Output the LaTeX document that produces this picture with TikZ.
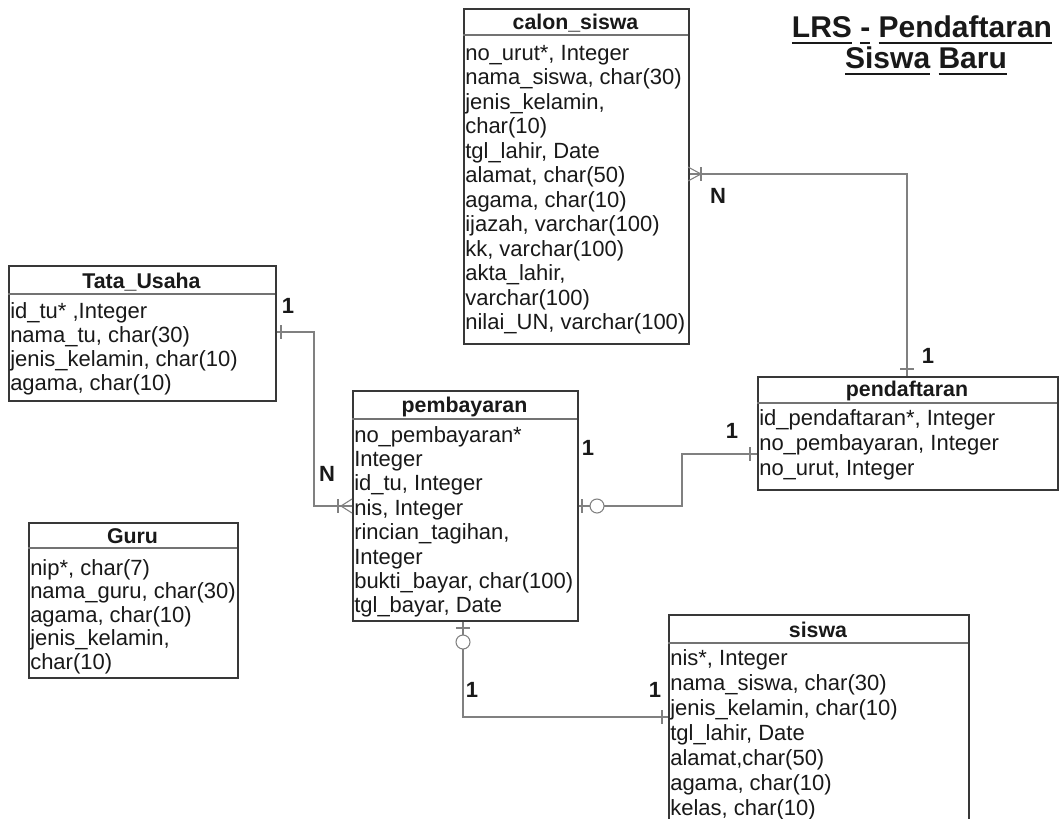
\documentclass[tikz,border=0pt]{standalone}
\usepackage{fontspec}
\setmainfont{Liberation Sans}
\newcommand\myul[1]{\setbox0\hbox{#1}\rlap{\rule[-5.25pt]{\wd0}{1.5pt}}\box0\relax}
\newcommand\erdrows[5]{\foreach \t [count=\i] in {#5} {\node[row] (#1-\i) at (#2,{#3+(\i-1)*#4}) {\t};}}
\begin{document}
\begin{tikzpicture}[x=0.75pt,y=-0.75pt,
 tbl/.style={draw=black!78, line width=1.2pt, fill=white, inner sep=0pt, anchor=north west},
 sep/.style={draw=black!55, line width=1pt},
 hdr/.style={font=\fontsize{16}{19}\selectfont\bfseries, text=black!90, anchor=base, inner sep=0pt},
 row/.style={font=\fontsize{16.5}{19}\selectfont, text=black!90, anchor=base west, inner sep=0pt},
 conn/.style={draw=black!50, line width=0.8pt},
 lbl/.style={font=\fontsize{16.5}{19}\selectfont\bfseries, text=black!90, anchor=base, inner sep=0pt},
 ttl/.style={font=\fontsize{22.5}{27}\selectfont\bfseries, anchor=base, inner sep=0pt, text=black!90}]

\useasboundingbox (0,0) rectangle (1064,818);
\fill[white] (0,0) rectangle (1064,818);
\clip (0,0) rectangle (1064,818);

% title
\node[ttl] (t1) at (922,37) {\myul{LRS} \myul{-} \myul{Pendaftaran}};
\node[ttl] (t2) at (926,68) {\myul{Siswa} \myul{Baru}};

% calon_siswa
\node[tbl, minimum width=168.75pt, minimum height=251.25pt] (cs) at (463,8) {};
\draw[sep] (463,35) -- (688,35);
\node[hdr] (cs-h) at (575.5,29) {calon\_siswa};
\erdrows{cs}{465}{60}{24.5}{{no\_urut*, Integer},{nama\_siswa, char(30)},{jenis\_kelamin,},{char(10)},{tgl\_lahir, Date},{alamat, char(50)},{agama, char(10)},{ijazah, varchar(100)},{kk, varchar(100)},{akta\_lahir,},{varchar(100)},{nilai\_UN, varchar(100)}}

% Tata_Usaha
\node[tbl, minimum width=200.25pt, minimum height=101.25pt] (tu) at (8,265) {};
\draw[sep] (8,294) -- (275,294);
\node[hdr] (tu-h) at (141.5,288) {Tata\_Usaha};
\erdrows{tu}{10}{318}{24.3}{{id\_tu* ,Integer},{nama\_tu, char(30)},{jenis\_kelamin, char(10)},{agama, char(10)}}

% Guru
\node[tbl, minimum width=156.75pt, minimum height=116.25pt] (gu) at (28,522) {};
\draw[sep] (28,548) -- (237,548);
\node[hdr] (gu-h) at (132.5,543) {Guru};
\erdrows{gu}{30}{575}{23.5}{{nip*, char(7)},{nama\_guru, char(30)},{agama, char(10)},{jenis\_kelamin,},{char(10)}}

% pembayaran
\node[tbl, minimum width=168.75pt, minimum height=172.5pt] (pb) at (352,390) {};
\draw[sep] (352,419) -- (577,419);
\node[hdr] (pb-h) at (464.5,412) {pembayaran};
\erdrows{pb}{354}{442}{24.4}{{no\_pembayaran*},{Integer},{id\_tu, Integer},{nis, Integer},{rincian\_tagihan,},{Integer},{bukti\_bayar, char(100)},{tgl\_bayar, Date}}

% pendaftaran
\node[tbl, minimum width=225pt, minimum height=84.75pt] (pd) at (757,376) {};
\draw[sep] (757,403) -- (1057,403);
\node[hdr] (pd-h) at (907,396) {pendaftaran};
\erdrows{pd}{759}{425}{25}{{id\_pendaftaran*, Integer},{no\_pembayaran, Integer},{no\_urut, Integer}}

% siswa
\node[tbl, minimum width=225pt, minimum height=169.5pt] (sw) at (668,614) {};
\draw[sep] (668,643) -- (968,643);
\node[hdr] (sw-h) at (818,637) {siswa};
\erdrows{sw}{670}{665}{25}{{nis*, Integer},{nama\_siswa, char(30)},{jenis\_kelamin, char(10)},{tgl\_lahir, Date},{alamat,char(50)},{agama, char(10)},{kelas, char(10)}}

% connector Tata_Usaha -- pembayaran
\coordinate (k1a) at (314,332);
\coordinate (k1b) at (314,506);
\draw[conn] (tu.east |- k1a) -- (k1a) -- (k1b) -- (pb.west |- k1b);
\draw[conn] (281,325) -- (281,339);
\draw[conn] (338,499) -- (338,513);
\draw[conn] (352,499) -- (341,506) -- (352,513);
\node[lbl] (l1) at (288,313) {1};
\node[lbl] (l2) at (327,481) {N};

% connector pembayaran -- pendaftaran
\coordinate (k2a) at (682,506);
\coordinate (k2b) at (682,454);
\draw[conn] (pb.east |- k2a) -- (k2a) -- (k2b) -- (pd.west |- k2b);
\draw[conn] (582,499) -- (582,513);
\draw[conn, fill=white] (597,506) circle[radius=5.25pt];
\draw[conn] (750,447) -- (750,461);
\node[lbl] (l3) at (588,455) {1};
\node[lbl] (l4) at (732,438) {1};

% connector calon_siswa -- pendaftaran
\coordinate (k3) at (907,174);
\draw[conn] (cs.east |- k3) -- (k3) -- (pd.north -| k3);
\draw[conn] (688,167) -- (701,174) -- (688,181);
\draw[conn] (701,167) -- (701,181);
\draw[conn] (900,369) -- (914,369);
\node[lbl] (l5) at (718,203) {N};
\node[lbl] (l6) at (928,363) {1};

% connector pembayaran -- siswa
\coordinate (k4) at (463,717);
\draw[conn] (pb.south -| k4) -- (k4) -- (sw.west |- k4);
\draw[conn] (456,628) -- (470,628);
\draw[conn, fill=white] (463,642) circle[radius=5.25pt];
\draw[conn] (662,710) -- (662,724);
\node[lbl] (l7) at (472,697) {1};
\node[lbl] (l8) at (655,697) {1};
\end{tikzpicture}
\end{document}
